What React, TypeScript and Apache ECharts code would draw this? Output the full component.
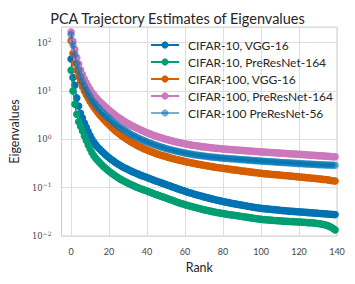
import React, { useEffect, useRef } from "react";
import * as echarts from "echarts";

const seriesNames = [
  "CIFAR-10, VGG-16",
  "CIFAR-10, PreResNet-164",
  "CIFAR-100, VGG-16",
  "CIFAR-100, PreResNet-164",
  "CIFAR-100 PreResNet-56",
];

const c10Vgg16 = [
  46, 19, 13.2, 7.2, 4.9, 3.47, 2.75, 2.19, 1.78, 1.45,
  1.2, 1.0, 0.87, 0.776, 0.69, 0.63, 0.575, 0.525, 0.484, 0.447,
  0.417, 0.389, 0.363, 0.339, 0.32, 0.302, 0.286, 0.272, 0.259, 0.248,
  0.237, 0.226, 0.217, 0.208, 0.2, 0.193, 0.186, 0.179, 0.173, 0.168,
  0.162, 0.157, 0.151, 0.146, 0.141, 0.136, 0.132, 0.128, 0.124, 0.12,
  0.116, 0.112, 0.109, 0.105, 0.102, 0.0989, 0.0955, 0.0923, 0.0895, 0.0869,
  0.0843, 0.0818, 0.0796, 0.0774, 0.0753, 0.0733, 0.0713, 0.0695, 0.0678, 0.0661,
  0.0644, 0.063, 0.0615, 0.0601, 0.0587, 0.0574, 0.0562, 0.0551, 0.054, 0.0528,
  0.0518, 0.0508, 0.0499, 0.049, 0.0481, 0.0472, 0.0463, 0.0456, 0.0449, 0.0442,
  0.0435, 0.0428, 0.0421, 0.0414, 0.0407, 0.0401, 0.0395, 0.039, 0.0385, 0.0379,
  0.0374, 0.0371, 0.0367, 0.0364, 0.0361, 0.0357, 0.0354, 0.0351, 0.0348, 0.0344,
  0.0341, 0.0338, 0.0335, 0.0332, 0.033, 0.0327, 0.0325, 0.0323, 0.0321, 0.0318,
  0.0316, 0.0314, 0.0312, 0.031, 0.0308, 0.0305, 0.0303, 0.0301, 0.0299, 0.0297,
  0.0295, 0.0293, 0.0291, 0.0289, 0.0287, 0.0285, 0.0283, 0.0281, 0.0279, 0.0277,
];

const c10PreRes164 = [
  27, 10, 5.3, 3.3, 2.3, 1.86, 1.48, 1.175, 0.944, 0.767,
  0.635, 0.528, 0.457, 0.407, 0.363, 0.331, 0.302, 0.275, 0.254, 0.234,
  0.219, 0.204, 0.191, 0.178, 0.168, 0.158, 0.15, 0.143, 0.136, 0.13,
  0.124, 0.119, 0.114, 0.109, 0.105, 0.101, 0.0975, 0.0942, 0.091, 0.0881,
  0.0851, 0.0822, 0.0794, 0.0767, 0.0741, 0.0716, 0.0693, 0.0671, 0.065, 0.063,
  0.061, 0.059, 0.0571, 0.0553, 0.0536, 0.0519, 0.0501, 0.0484, 0.0471, 0.0458,
  0.0446, 0.0434, 0.0423, 0.0413, 0.0403, 0.0393, 0.0383, 0.0374, 0.0366, 0.0358,
  0.035, 0.0343, 0.0336, 0.033, 0.0323, 0.0317, 0.0311, 0.0305, 0.0301, 0.0296,
  0.0291, 0.0287, 0.0283, 0.0279, 0.0275, 0.0272, 0.0268, 0.0264, 0.0261, 0.0257,
  0.0254, 0.025, 0.0247, 0.0243, 0.024, 0.0237, 0.0233, 0.023, 0.0227, 0.0224,
  0.0221, 0.0219, 0.0218, 0.0216, 0.0215, 0.0213, 0.0212, 0.021, 0.0209, 0.0207,
  0.0206, 0.0205, 0.0203, 0.0202, 0.0201, 0.02, 0.0199, 0.0198, 0.0197, 0.0196,
  0.0195, 0.0195, 0.0193, 0.0192, 0.0191, 0.0189, 0.0188, 0.0187, 0.0185, 0.0183,
  0.0181, 0.0179, 0.0176, 0.0173, 0.0169, 0.0164, 0.0158, 0.0151, 0.0143, 0.0133,
];

const c100Vgg16 = [
  110, 60.3, 38, 26.9, 20, 15.5, 12.3, 10, 8.32, 7.08,
  6.03, 5.25, 4.62, 4.07, 3.63, 3.24, 2.92, 2.63, 2.4, 2.19,
  2.0, 1.82, 1.68, 1.55, 1.44, 1.33, 1.24, 1.16, 1.09, 1.03,
  0.966, 0.912, 0.863, 0.818, 0.778, 0.741, 0.708, 0.678, 0.65, 0.624,
  0.6, 0.578, 0.558, 0.54, 0.522, 0.506, 0.491, 0.476, 0.463, 0.451,
  0.439, 0.428, 0.417, 0.406, 0.397, 0.388, 0.379, 0.371, 0.363, 0.356,
  0.348, 0.341, 0.335, 0.329, 0.323, 0.317, 0.311, 0.305, 0.301, 0.296,
  0.291, 0.286, 0.282, 0.277, 0.273, 0.269, 0.265, 0.262, 0.258, 0.255,
  0.251, 0.248, 0.245, 0.242, 0.239, 0.236, 0.233, 0.231, 0.228, 0.225,
  0.222, 0.22, 0.217, 0.215, 0.212, 0.21, 0.207, 0.205, 0.203, 0.2,
  0.198, 0.196, 0.195, 0.193, 0.191, 0.19, 0.188, 0.187, 0.185, 0.184,
  0.182, 0.181, 0.179, 0.178, 0.176, 0.175, 0.173, 0.172, 0.17, 0.169,
  0.167, 0.166, 0.164, 0.163, 0.161, 0.16, 0.158, 0.157, 0.156, 0.154,
  0.153, 0.151, 0.15, 0.148, 0.147, 0.145, 0.143, 0.141, 0.139, 0.137,
];

const c100PreRes164 = [
  166, 107, 72.4, 49, 36.3, 27.5, 21.9, 17.8, 14.8, 12.6,
  10.7, 9.33, 8.32, 7.41, 6.68, 6.1, 5.56, 5.13, 4.73, 4.37,
  4.03, 3.73, 3.47, 3.24, 3.02, 2.83, 2.66, 2.51, 2.37, 2.24,
  2.12, 2.02, 1.92, 1.84, 1.75, 1.68, 1.61, 1.54, 1.48, 1.42,
  1.37, 1.32, 1.28, 1.23, 1.19, 1.16, 1.12, 1.09, 1.06, 1.03,
  1.0, 0.98, 0.955, 0.933, 0.912, 0.891, 0.873, 0.855, 0.838, 0.822,
  0.807, 0.792, 0.78, 0.767, 0.755, 0.745, 0.735, 0.724, 0.715, 0.706,
  0.698, 0.69, 0.682, 0.675, 0.668, 0.662, 0.656, 0.65, 0.644, 0.638,
  0.632, 0.628, 0.624, 0.619, 0.615, 0.611, 0.607, 0.603, 0.598, 0.594,
  0.59, 0.586, 0.582, 0.578, 0.574, 0.57, 0.566, 0.562, 0.558, 0.555,
  0.551, 0.547, 0.545, 0.541, 0.538, 0.535, 0.532, 0.528, 0.526, 0.522,
  0.52, 0.516, 0.514, 0.511, 0.508, 0.505, 0.502, 0.499, 0.497, 0.493,
  0.491, 0.488, 0.484, 0.481, 0.479, 0.475, 0.472, 0.469, 0.467, 0.463,
  0.46, 0.457, 0.455, 0.452, 0.449, 0.446, 0.444, 0.441, 0.438, 0.435,
];

const c100PreRes56 = [
  145, 89, 57.5, 37.2, 26.9, 19.9, 15.5, 12.6, 10.5, 8.92,
  7.58, 6.46, 5.76, 5.13, 4.62, 4.22, 3.76, 3.47, 3.2, 2.95,
  2.72, 2.52, 2.29, 2.14, 2.0, 1.87, 1.76, 1.66, 1.57, 1.48,
  1.4, 1.3, 1.24, 1.19, 1.13, 1.085, 1.04, 0.995, 0.956, 0.917,
  0.885, 0.853, 0.827, 0.795, 0.769, 0.749, 0.724, 0.704, 0.685, 0.665,
  0.646, 0.633, 0.617, 0.603, 0.589, 0.576, 0.564, 0.552, 0.541, 0.531,
  0.521, 0.512, 0.504, 0.495, 0.488, 0.481, 0.475, 0.468, 0.462, 0.456,
  0.451, 0.446, 0.441, 0.436, 0.432, 0.428, 0.424, 0.42, 0.416, 0.412,
  0.408, 0.406, 0.403, 0.4, 0.397, 0.395, 0.392, 0.39, 0.386, 0.384,
  0.381, 0.379, 0.376, 0.373, 0.371, 0.368, 0.366, 0.363, 0.36, 0.359,
  0.356, 0.353, 0.352, 0.349, 0.348, 0.346, 0.344, 0.341, 0.34, 0.337,
  0.336, 0.333, 0.332, 0.33, 0.328, 0.326, 0.324, 0.322, 0.321, 0.318,
  0.317, 0.315, 0.313, 0.311, 0.309, 0.307, 0.307, 0.305, 0.304, 0.302,
  0.3, 0.299, 0.298, 0.297, 0.296, 0.295, 0.294, 0.293, 0.292, 0.29,
];

const xTicks = [0, 20, 40, 60, 80, 100, 120, 140];
const colors = ["#0173b2", "#029e73", "#d55e00", "#cc78bc", "#0173b2"];
const opacities = [1, 1, 1, 1, 0.55];

export default function App() {
  const ref = useRef<HTMLDivElement>(null);
  useEffect(() => {
    if (!ref.current) return;
    const chart = echarts.init(ref.current, undefined, { renderer: "svg" });
    const all = [c10Vgg16, c10PreRes164, c100Vgg16, c100PreRes164, c100PreRes56];
    const series = all.map((vals, si) => ({
      name: seriesNames[si],
      type: "line",
      data: vals.map((v, i) => [i, v]),
      symbol: "circle",
      symbolSize: 7.5,
      showAllSymbol: true,
      color: colors[si],
      lineStyle: { width: 1.5, color: colors[si], opacity: opacities[si] },
      itemStyle: { color: colors[si], opacity: opacities[si] },
      z: 2 + si,
    }));
    chart.setOption({
      animation: false,
      backgroundColor: "#ffffff",
      title: {
        text: "PCA Trajectory Estimates of Eigenvalues",
        left: "center",
        top: 6,
        textStyle: { fontFamily: "Lato", fontSize: 14.5, fontWeight: "normal", color: "#262626" },
      },
      grid: {
        left: 58, right: 18, top: 27, bottom: 48,
        show: true, borderColor: "#cccccc", borderWidth: 1,
      },
      legend: {
        orient: "vertical",
        left: 145,
        top: 34,
        itemWidth: 28,
        itemHeight: 9,
        itemGap: 5,
        textStyle: { fontFamily: "Lato", fontSize: 12, color: "#262626", padding: [0, 0, 0, 4] },
        data: seriesNames,
      },
      xAxis: {
        type: "value",
        min: -5,
        max: 140,
        name: "Rank",
        nameLocation: "middle",
        nameGap: 24,
        nameTextStyle: { fontFamily: "Lato", fontSize: 12.5, color: "#262626" },
        axisLine: { show: false },
        axisTick: { show: false, customValues: xTicks },
        axisLabel: { customValues: xTicks, margin: 11, fontFamily: "Lato", fontSize: 9, color: "#444" },
        splitLine: { show: true, lineStyle: { color: "#dddddd", width: 1 } },
      },
      yAxis: {
        type: "log",
        logBase: 10,
        min: 0.01,
        max: 211,
        name: "Eigenvalues",
        nameLocation: "middle",
        nameGap: 37,
        nameTextStyle: { fontFamily: "Lato", fontSize: 12.5, color: "#262626" },
        axisLine: { show: false },
        axisTick: { show: false },
        splitLine: { show: true, lineStyle: { color: "#dddddd", width: 1 } },
        axisLabel: {
          margin: 10,
          fontFamily: "DejaVu Serif",
          fontSize: 8.5,
          color: "#444",
          formatter: (v: number) => {
            const lg = Math.log10(v);
            const e = Math.round(lg);
            if (Math.abs(lg - e) > 1e-6) return "";
            const es = e < 0 ? "\u2212" + Math.abs(e) : String(e);
            return "10{sup|" + es + "}";
          },
          rich: {
            sup: { fontSize: 6, fontFamily: "DejaVu Serif", color: "#444", verticalAlign: "top", padding: [0, 0, 6, 0] },
          },
        },
      },
      series,
    });
    return () => chart.dispose();
  }, []);
  return (
    <div
      ref={ref}
      style={{ position: "fixed", left: 0, top: 0, width: 355, height: 284 }}
    />
  );
}
